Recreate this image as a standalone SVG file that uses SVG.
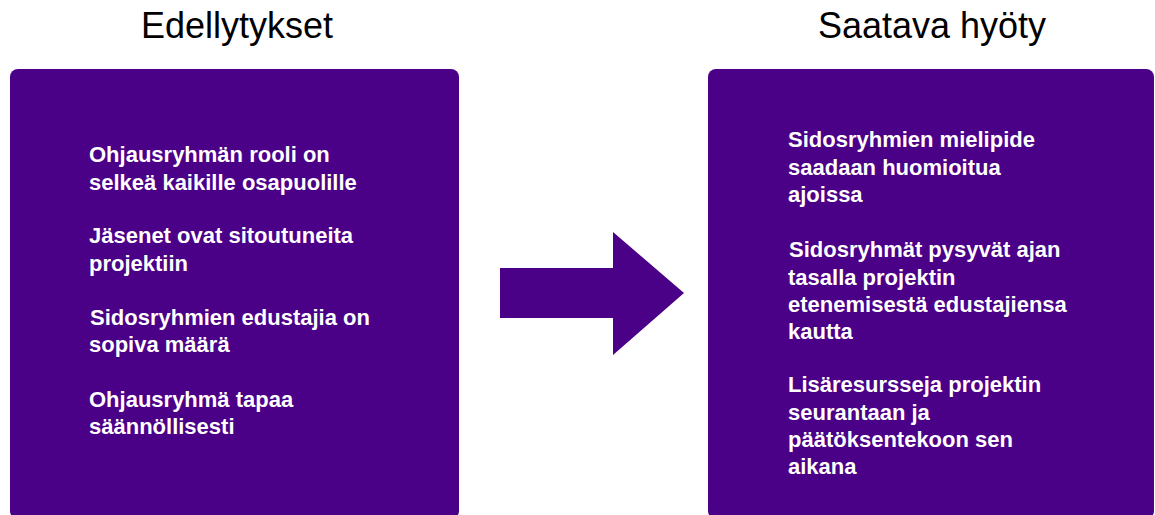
<svg xmlns="http://www.w3.org/2000/svg" width="1155" height="515" viewBox="0 0 1155 515">
<style>
.box{fill:#4b0088;}
.title{font-family:"Liberation Sans",Arial,sans-serif;font-size:36px;fill:#000;text-anchor:middle;}
.body{font-family:"Liberation Sans",Arial,sans-serif;font-size:22px;font-weight:bold;fill:#fff;}
</style>
<rect width="1155" height="515" fill="#fff"/>
<g id="title-left"><text class="title" x="237" y="38">Edellytykset</text></g>
<g id="title-right"><text class="title" x="932" y="38">Saatava hyöty</text></g>
<g id="box-left">
<rect class="box" x="10" y="69" width="449" height="450" rx="8"/>
<text class="body">
<tspan x="89" y="162">Ohjausryhmän rooli on</tspan>
<tspan x="89" y="190">selkeä kaikille osapuolille</tspan>
<tspan x="89" y="243">Jäsenet ovat sitoutuneita</tspan>
<tspan x="89" y="271">projektiin</tspan>
<tspan x="90" y="325">Sidosryhmien edustajia on</tspan>
<tspan x="89" y="352">sopiva määrä</tspan>
<tspan x="89" y="407">Ohjausryhmä tapaa</tspan>
<tspan x="89" y="434">säännöllisesti</tspan>
</text>
</g>
<g id="connectors">
<polygon class="box" points="500,268 613,268 613,232 684,293 613,355 613,318 500,318"/>
</g>
<g id="box-right">
<rect class="box" x="708" y="69" width="446" height="450" rx="8"/>
<text class="body">
<tspan x="788" y="147">Sidosryhmien mielipide</tspan>
<tspan x="788" y="174.5">saadaan huomioitua</tspan>
<tspan x="788" y="202">ajoissa</tspan>
<tspan x="789" y="257">Sidosryhmät pysyvät ajan</tspan>
<tspan x="788" y="284.5">tasalla projektin</tspan>
<tspan x="788" y="312">etenemisestä edustajiensa</tspan>
<tspan x="788" y="339">kautta</tspan>
<tspan x="788" y="392">Lisäresursseja projektin</tspan>
<tspan x="788" y="419.5">seurantaan ja</tspan>
<tspan x="788" y="447">päätöksentekoon sen</tspan>
<tspan x="788" y="474">aikana</tspan>
</text>
</g>
</svg>
